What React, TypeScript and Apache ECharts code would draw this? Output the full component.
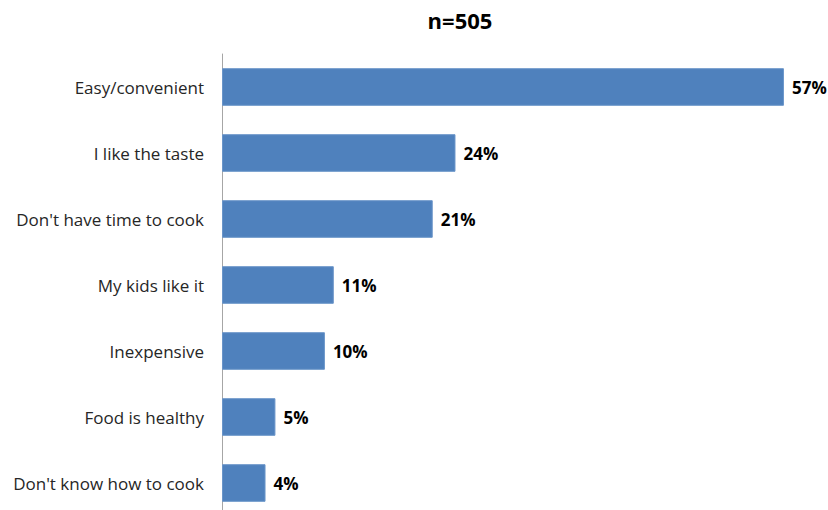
import React, { useEffect, useRef } from "react";
import * as echarts from "echarts";

const categories = [
  "Easy/convenient",
  "I like the taste",
  "Don't have time to cook",
  "My kids like it",
  "Inexpensive",
  "Food is healthy",
  "Don't know how to cook",
];
const values = [56.8, 23.6, 21.3, 11.3, 10.4, 5.4, 4.4];
const titleText = "n=505";

export default function App() {
  const ref = useRef<HTMLDivElement>(null);
  useEffect(() => {
    if (!ref.current) return;
    const chart = echarts.init(ref.current, undefined, { renderer: "svg" });
    chart.setOption({
      animation: false,
      backgroundColor: "#ffffff",
      title: {
        text: titleText,
        left: 455,
        top: 4,
        textAlign: "center",
        textStyle: {
          fontFamily: "Open Sans",
          fontSize: 22,
          fontWeight: "bold",
          color: "#000000",
        },
      },
      grid: { left: 222, top: 54, height: 462, width: 593.6, containLabel: false },
      xAxis: {
        type: "value",
        min: 0,
        max: 60,
        show: false,
      },
      yAxis: {
        type: "category",
        data: categories,
        inverse: true,
        axisLine: { show: true, lineStyle: { color: "#A6A6A6", width: 1 } },
        axisTick: { show: false },
        axisLabel: {
          margin: 18,
          fontFamily: "Open Sans",
          fontSize: 17,
          color: "#262626",
        },
      },
      series: [
        {
          type: "bar",
          data: values,
          barCategoryGap: "43%",
          itemStyle: { color: "#4F81BD", borderColor: "#6A95C9", borderWidth: 1 },
          label: {
            show: true,
            position: "right",
            distance: 8,
            formatter: (p: any) => Math.round(p.value) + "%",
            fontFamily: "Open Sans",
            fontSize: 17,
            fontWeight: "bold",
            color: "#000000",
          },
        },
      ],
    });
    return () => chart.dispose();
  }, []);
  return (
    <div style={{ width: 828, height: 510, position: "absolute", left: 0, top: 0, overflow: "hidden" }}>
      <div ref={ref} style={{ width: 828, height: 530 }} />
    </div>
  );
}
